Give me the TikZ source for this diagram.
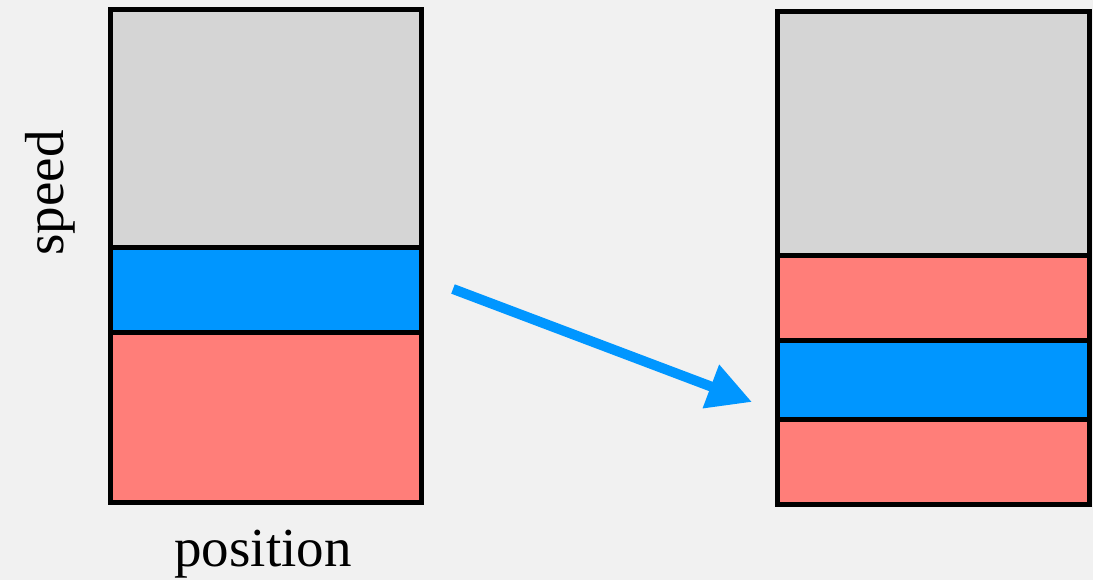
\documentclass[tikz,border=0pt]{standalone}
\usepackage{fontspec}
\setmainfont{Liberation Serif}
\usetikzlibrary{arrows.meta}
\definecolor{bggray}{HTML}{F1F1F1}
\definecolor{bandgray}{HTML}{D5D5D5}
\definecolor{bandblue}{HTML}{0096FF}
\definecolor{bandred}{HTML}{FF7E79}
\tikzset{
  band/.style={draw=black, line width=5pt},
  lbl/.style={font=\fontsize{55}{62}\selectfont, inner sep=0pt, anchor=base},
  flow/.style={draw=bandblue, line width=10pt, -{Triangle[length=44pt,width=44pt]}}
}
\begin{document}
\begin{tikzpicture}[x=1pt,y=-1pt]
\fill[bggray] (0,0) rectangle (1093,580);
\useasboundingbox (0,0) rectangle (1093,580);
% left column
\draw[band, fill=bandgray] (110,10) rectangle (421,247.5);
\draw[band, fill=bandblue] (110,247.5) rectangle (421,332.5);
\draw[band, fill=bandred] (110,332.5) rectangle (421,502);
% right column
\draw[band, fill=bandgray] (777.5,12) rectangle (1089.5,255.5);
\draw[band, fill=bandred] (777.5,255.5) rectangle (1089.5,340.5);
\draw[band, fill=bandblue] (777.5,340.5) rectangle (1089.5,419);
\draw[band, fill=bandred] (777.5,419) rectangle (1089.5,504.5);
% labels
\node[lbl, rotate=90] (speed) at (63,193) {speed};
\node[lbl] (position) at (263,566) {position};
% arrow
\coordinate (from) at (453,289);
\coordinate (to) at (752,402);
\draw[flow] (from) -- (to);
\end{tikzpicture}
\end{document}
